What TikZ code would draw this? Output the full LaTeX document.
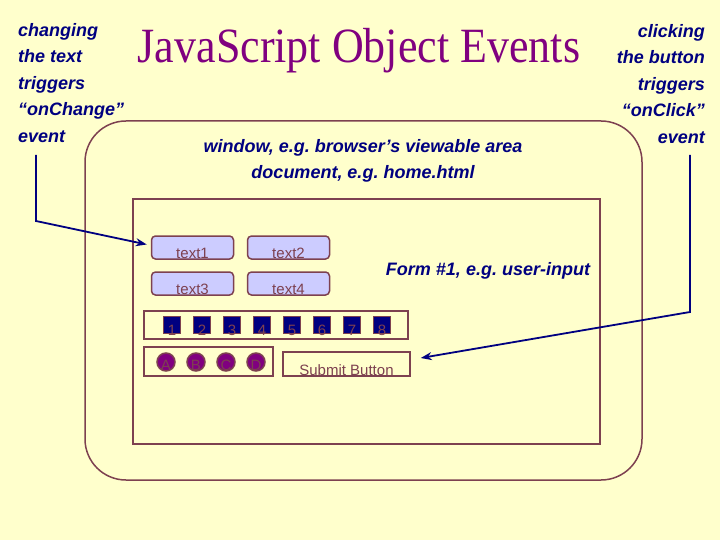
\documentclass[tikz,border=0pt]{standalone}
\usepackage{graphicx}
\usepackage{fontspec}
\setmainfont{Liberation Serif}
\setsansfont{Liberation Sans}
\usetikzlibrary{arrows.meta}
\frenchspacing
\definecolor{paper}{RGB}{255,255,204}
\definecolor{frame}{RGB}{125,65,80}
\definecolor{navy}{RGB}{0,0,128}
\definecolor{plum}{RGB}{128,0,128}
\definecolor{lilac}{RGB}{204,204,255}
\tikzset{
  note/.style={font=\sffamily\bfseries\itshape\fontsize{18}{26.5}\selectfont, text=navy, inner sep=0pt},
  field/.style={draw=frame, line width=1.5pt, fill=lilac, rounded corners=4pt, minimum width=82pt, minimum height=23pt, inner sep=0pt},
  plain/.style={font=\sffamily\fontsize{15}{18}\selectfont, text=frame, inner sep=0pt},
  strip/.style={draw=frame, line width=1.5pt},
  pointer/.style={draw=navy, line width=1.8pt, -{Stealth[length=11pt,width=8pt]}},
}
\begin{document}
\begin{tikzpicture}[x=1pt, y=-1pt]
\fill[paper](0,0)rectangle(720,540);
% title
\node[font=\fontsize{44}{44}\selectfont, text=plum, inner sep=0pt, anchor=base](title) at (359,63){\scalebox{1}[1.12]{JavaScript Object Events}};
% window and document
\draw[strip, rounded corners=41pt](85,121)rectangle(642,480);
\draw[strip](133,199)rectangle(600,444);
\node[note, anchor=base](win) at (363,153){window, e.g. browser’s viewable area};
\node[note, anchor=base](doc) at (363,179){document, e.g. home.html};
\node[note, anchor=base](form) at (488,275){Form \#1, e.g. user-input};
% text fields
\node[field](t1) at (192.5,247.5){};
\node[field](t2) at (288.5,247.5){};
\node[field](t3) at (192.5,283.5){};
\node[field](t4) at (288.5,283.5){};
\foreach \f/\s in {t1/text1, t2/text2, t3/text3, t4/text4}
  \node[plain, anchor=base] at ([yshift=1pt]\f.south){\s};
% checkboxes
\draw[strip](144,311)rectangle(408,339);
\foreach \n in {1,...,8}{
  \node[draw=frame, line width=1.5pt, fill=navy, minimum size=17pt, inner sep=0pt](cb\n) at (142+30*\n,325){};
  \node[plain, anchor=base] at ([yshift=-1.5pt]cb\n.south){\n};
}
% radio buttons
\draw[strip](144,347)rectangle(273,376);
\foreach \l [count=\i] in {A,B,C,D}{
  \node[circle, draw=frame, line width=1.5pt, fill=plum, minimum size=18pt, inner sep=0pt](rb\i) at (136+30*\i,362){};
  \node[plain, anchor=base] at ([yshift=1.5pt]rb\i.south){\l};
}
% submit button
\node[draw=frame, line width=1.5pt, minimum width=127pt, minimum height=24pt, inner sep=0pt](sub) at (346.5,364){};
\node[plain, anchor=base] at ([yshift=1pt]sub.south){Submit Button};
% notes
\node[note, align=left, anchor=north west](chg) at (18,23){changing\\the text\\triggers\\“onChange”\\event};
\node[note, align=right, anchor=north east](clk) at (705,24){clicking\\the button\\triggers\\“onClick”\\event};
% arrows
\coordinate (chgfoot) at (36,155);
\coordinate (chgbend) at (36,221);
\draw[pointer](chgfoot)--(chgbend)--([xshift=-4pt,yshift=3pt]t1.west);
\coordinate (clkfoot) at (690,155);
\coordinate (clkbend) at (690,312);
\draw[pointer](clkfoot)--(clkbend)--([xshift=10pt,yshift=6pt]sub.east);
\end{tikzpicture}
\end{document}
